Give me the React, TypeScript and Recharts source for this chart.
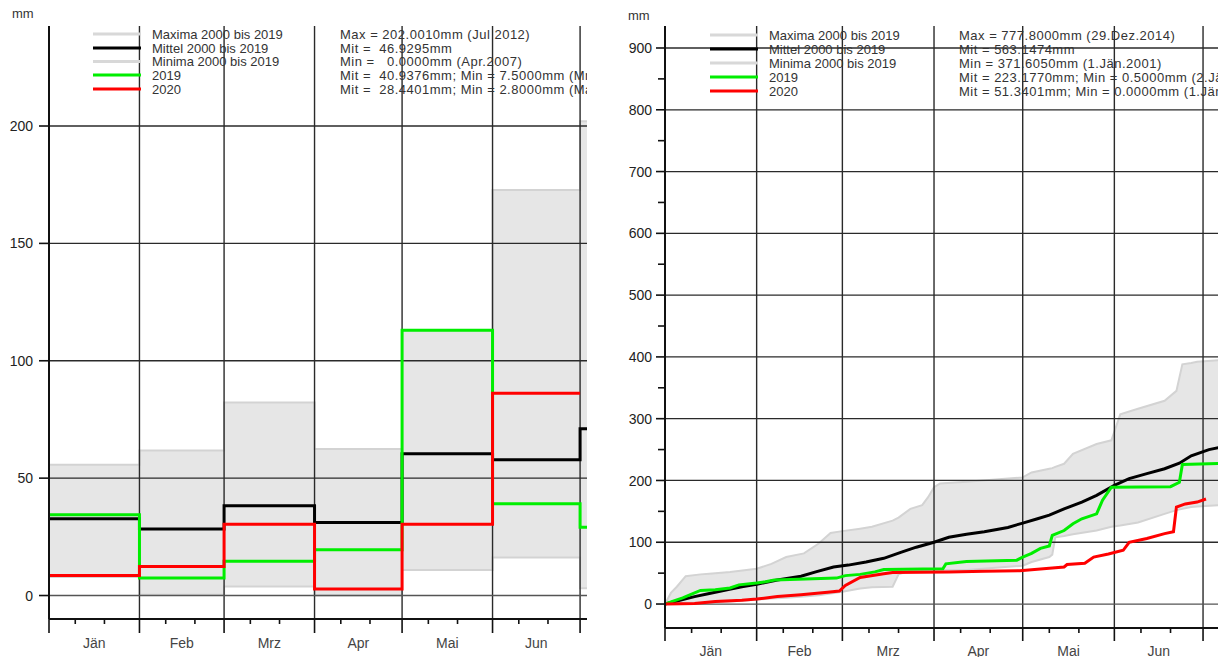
import React from 'react';
import { ComposedChart, Line, Area, XAxis, YAxis, ReferenceLine } from 'recharts';

const FONT = '"Liberation Sans", Arial, Helvetica, sans-serif';

// ---------- shared calendar (2020, leap year; day 0 = 1 Jan) ----------
const monthNames = ['Jän', 'Feb', 'Mrz', 'Apr', 'Mai', 'Jun'];
const monthStarts = [0, 31, 60, 91, 121, 152, 182, 213, 244, 274, 305, 335, 366];

// ---------- left chart: monthly sums (mm), Jan..Jul ----------
const monMax = [55.7, 61.8, 82.2, 62.4, 113.0, 172.7, 202.0];
const monMin = [7.9, 0.3, 3.8, 0.0, 10.9, 16.2, 3.1];
const monMean = [32.7, 28.3, 38.2, 31.1, 60.4, 57.8, 71.0];
const mon2019 = [34.4, 7.5, 14.6, 19.5, 113.0, 39.1, 29.1];
const mon2020 = [8.5, 12.4, 30.4, 2.8, 30.4, 86.2];
const leftYTicks = [0, 50, 100, 150, 200];

// ---------- right chart: cumulative sums (mm) ----------
const bandDays = [0, 2, 4, 7, 12, 15, 22, 31, 36, 41, 47, 52, 56, 60, 66, 70, 77, 79, 83, 87, 89, 91, 93, 102, 121, 124, 130, 131, 132, 135, 138, 146, 151, 154, 160, 169, 173, 175, 178, 180, 188];
const bandMax = [0, 18, 28, 45, 48, 49, 52, 57, 65, 76, 82, 98, 115, 118, 122, 125, 135, 140, 154, 160, 173, 189, 195, 198, 205, 213, 219, 220, 222, 227, 243, 259, 265, 307, 316, 329, 345, 388, 390, 392, 395];
const bandMin = [0, 1, 1, 2, 2, 3, 4, 7, 9, 10, 12, 14, 17, 20, 25, 27, 28, 48, 54, 54, 55, 55, 55, 55, 62, 68, 76, 80, 108, 110, 113, 119, 125, 127, 132, 146, 152, 154, 157, 158, 160];

const meanDays = [0, 5, 10, 15, 21, 26, 31, 38, 46, 51, 57, 62, 68, 74, 80, 85, 91, 96, 102, 108, 116, 121, 126, 130, 135, 141, 146, 152, 157, 163, 169, 174, 178, 184, 190];
const meanVals = [0, 6, 12, 17, 23, 28, 32, 39, 45, 52, 60, 63, 68, 74, 84, 92, 100, 108, 113, 117, 124, 131, 138, 144, 154, 165, 176, 192, 203, 211, 219, 228, 240, 250, 256];

const cum2019Days = [0, 3, 6, 9, 12, 17, 22, 25, 31, 34, 37, 45, 50, 58, 61, 66, 71, 74, 94, 95, 102, 119, 121, 124, 127, 130, 131, 135, 138, 141, 146, 148, 151, 171, 174, 175, 190];
const cum2019Vals = [0, 5, 10, 16, 22, 23, 26, 31, 34, 36, 39, 40, 41, 42, 46, 48, 52, 56, 57, 65, 69, 71, 76, 82, 90, 94, 111, 119, 130, 138, 146, 168, 189, 190, 197, 226, 228];

const cum2020Days = [0, 10, 17, 26, 31, 38, 46, 55, 59, 61, 66, 74, 77, 96, 108, 120, 130, 135, 136, 142, 145, 150, 155, 157, 163, 169, 172, 173, 176, 180, 183];
const cum2020Vals = [0, 1, 4, 6, 8, 12, 15, 19, 21, 30, 43, 49, 51, 52, 53, 54, 58, 60, 64, 66, 76, 81, 87, 100, 106, 114, 117, 157, 162, 165, 170];

const rightYMajor = [0, 100, 200, 300, 400, 500, 600, 700, 800, 900];
const rightYMinor = [50, 150, 250, 350, 450, 550, 650, 750, 850];

// ---------- legend texts ----------
const legendNames = ['Maxima 2000 bis 2019', 'Mittel 2000 bis 2019', 'Minima 2000 bis 2019', '2019', '2020'];
const legendColors = ['#d8d8d8', '#000000', '#d8d8d8', '#00ee00', '#ff0000'];
const leftStats = [
  'Max = 202.0010mm (Jul 2012)',
  'Mit =  46.9295mm',
  'Min =   0.0000mm (Apr.2007)',
  'Mit =  40.9376mm; Min = 7.5000mm (Mrz.2019)',
  'Mit =  28.4401mm; Min = 2.8000mm (Mai.2020)',
];
const rightStats = [
  'Max = 777.8000mm (29.Dez.2014)',
  'Mit = 563.1474mm',
  'Min = 371.6050mm (1.Jän.2001)',
  'Mit = 223.1770mm; Min = 0.5000mm (2.Jän)',
  'Mit = 51.3401mm; Min = 0.0000mm (1.Jän)',
];

// ---------- derived tables ----------
const shownStarts = monthStarts.slice(0, 8); // Jan .. Aug start (rest lies outside the picture)
const majorSet = new Set(shownStarts);
const labelMap = new Map<number, string>();
const xTicks: number[] = [];
shownStarts.slice(0, 7).forEach((s, i) => {
  const len = monthStarts[i + 1] - s;
  xTicks.push(s, s + 9, s + 19);
  if (i < monthNames.length) {
    xTicks.push(s + len / 2);
    labelMap.set(s + len / 2, monthNames[i]);
  }
});
xTicks.push(shownStarts[7]);
xTicks.sort((a, b) => a - b);

const leftRows = monthStarts.slice(0, 8).map((d, i) => {
  const k = Math.min(i, monMax.length - 1);
  return {
    d,
    band: [monMin[k], monMax[k]],
    mean: monMean[k],
    y2019: mon2019[k],
    y2020: i < mon2020.length ? mon2020[i] : i === mon2020.length ? mon2020[i - 1] : null,
  };
});

const bandRows = bandDays.map((d, i) => ({ d, band: [bandMin[i], bandMax[i]] }));
const meanRows = meanDays.map((d, i) => ({ d, v: meanVals[i] }));
const rows2019 = cum2019Days.map((d, i) => ({ d, v: cum2019Vals[i] }));
const rows2020 = cum2020Days.map((d, i) => ({ d, v: cum2020Vals[i] }));

// ---------- tick renderers ----------
function makeXTick(majorLen: number, minorLen: number, labelDy: number) {
  return (props: any) => {
    const { x, y, payload } = props;
    const v = payload.value;
    if (labelMap.has(v)) {
      return (
        <text x={x} y={y + labelDy} dy="0.36em" textAnchor="middle" fontFamily={FONT} fontSize={14} fill="#444">
          {labelMap.get(v)}
        </text>
      );
    }
    const len = majorSet.has(v) ? majorLen : minorLen;
    return <line x1={x} x2={x} y1={y} y2={y + len} stroke="#111" strokeWidth={1.6} />;
  };
}

function makeYTick(majors: number[], majorLen: number, minorLen: number, textGap: number) {
  return (props: any) => {
    const { x, y, payload } = props;
    const v = payload.value;
    const isMajor = majors.includes(v);
    return (
      <g>
        <line x1={x - (isMajor ? majorLen : minorLen)} x2={x} y1={y} y2={y} stroke="#111" strokeWidth={1.6} />
        {isMajor && (
          <text x={x - textGap} y={y} dy="0.36em" textAnchor="end" fontFamily={FONT} fontSize={14} fill="#222">
            {v}
          </text>
        )}
      </g>
    );
  };
}

const leftXTick = makeXTick(14, 5, 24);
const rightXTick = makeXTick(13, 5, 23);
const leftYTick = makeYTick(leftYTicks, 10, 7, 16);
const rightYTick = makeYTick(rightYMajor, 9, 7, 13);

// ---------- legend overlay ----------
function LegendOverlay(props: {
  width: number;
  lineX1: number;
  lineX2: number;
  textX: number;
  col2X: number;
  rows: number[];
  stats: string[];
  mmX: number;
  mmY: number;
}) {
  const { width, lineX1, lineX2, textX, col2X, rows, stats, mmX, mmY } = props;
  return (
    <svg width={width} height={657} style={{ position: 'absolute', left: 0, top: 0, pointerEvents: 'none' }}>
      <text x={mmX} y={mmY} dy="0.36em" fontFamily={FONT} fontSize={13} fill="#333">
        mm
      </text>
      {rows.map((ry, i) => (
        <g key={i}>
          <line x1={lineX1} x2={lineX2} y1={ry} y2={ry} stroke={legendColors[i]} strokeWidth={3.2} />
          <text x={textX} y={ry} dy="0.36em" fontFamily={FONT} fontSize={13} fill="#333">
            {legendNames[i]}
          </text>
          <text
            x={col2X}
            y={ry}
            dy="0.36em"
            fontFamily={FONT}
            fontSize={13}
            fill="#333"
            letterSpacing={0.5}
            style={{ whiteSpace: 'pre' }}
          >
            {stats[i]}
          </text>
        </g>
      ))}
    </svg>
  );
}

const gridStroke = '#2a2a2a';

function LeftChart() {
  return (
    <ComposedChart width={1117} height={657} data={leftRows} margin={{ top: 26, right: 0, bottom: 8, left: 9 }}>
      <XAxis
        type="number"
        dataKey="d"
        domain={[0, 366]}
        allowDataOverflow
        ticks={xTicks}
        interval={0}
        tickLine={false}
        tickSize={0}
        tickMargin={0}
        height={30}
        axisLine={{ stroke: '#111', strokeWidth: 2 }}
        tick={leftXTick}
      />
      <YAxis
        type="number"
        domain={[-10, 242.6]}
        allowDataOverflow
        ticks={leftYTicks}
        interval={0}
        width={40}
        tickLine={false}
        tickSize={0}
        tickMargin={0}
        axisLine={{ stroke: '#111', strokeWidth: 2 }}
        tick={leftYTick}
      />
      <Area type="stepAfter" dataKey="band" stroke="#d3d3d3" strokeWidth={2} fill="#e6e6e6" fillOpacity={1} isAnimationActive={false} />
      {shownStarts.slice(1).map((d) => (
        <ReferenceLine key={'v' + d} x={d} stroke={gridStroke} strokeWidth={1.4} zIndex={150} />
      ))}
      {leftYTicks.map((v) => (
        <ReferenceLine key={'h' + v} y={v} stroke={v === 0 ? '#555' : gridStroke} strokeWidth={1.3} zIndex={150} />
      ))}
      <Line type="stepAfter" dataKey="mean" stroke="#000" strokeWidth={3} dot={false} isAnimationActive={false} />
      <Line type="stepAfter" dataKey="y2019" stroke="#00ee00" strokeWidth={3} dot={false} isAnimationActive={false} />
      <Line type="stepAfter" dataKey="y2020" stroke="#ff0000" strokeWidth={3} dot={false} isAnimationActive={false} />
    </ComposedChart>
  );
}

function RightChart() {
  return (
    <ComposedChart width={1147} height={657} margin={{ top: 26, right: 0, bottom: 4, left: 5 }}>
      <XAxis
        type="number"
        dataKey="d"
        domain={[0, 366]}
        allowDataOverflow
        ticks={xTicks}
        interval={0}
        tickLine={false}
        tickSize={0}
        tickMargin={0}
        height={25}
        axisLine={{ stroke: '#111', strokeWidth: 2 }}
        tick={rightXTick}
      />
      <YAxis
        type="number"
        domain={[-38.8, 935.6]}
        allowDataOverflow
        ticks={[...rightYMajor, ...rightYMinor].sort((a, b) => a - b)}
        interval={0}
        width={60}
        tickLine={false}
        tickSize={0}
        tickMargin={0}
        axisLine={{ stroke: '#111', strokeWidth: 2 }}
        tick={rightYTick}
      />
      <Area data={bandRows} type="linear" dataKey="band" stroke="#d3d3d3" strokeWidth={2} fill="#e6e6e6" fillOpacity={1} isAnimationActive={false} />
      {shownStarts.slice(1).map((d) => (
        <ReferenceLine key={'v' + d} x={d} stroke={gridStroke} strokeWidth={1.4} zIndex={150} />
      ))}
      {rightYMajor.map((v) => (
        <ReferenceLine key={'h' + v} y={v} stroke={v === 0 ? '#555' : gridStroke} strokeWidth={1.3} zIndex={150} />
      ))}
      <Line data={meanRows} type="linear" dataKey="v" stroke="#000" strokeWidth={3} dot={false} isAnimationActive={false} />
      <Line data={rows2019} type="linear" dataKey="v" stroke="#00ee00" strokeWidth={3} dot={false} isAnimationActive={false} />
      <Line data={rows2020} type="linear" dataKey="v" stroke="#ff0000" strokeWidth={3} dot={false} isAnimationActive={false} />
    </ComposedChart>
  );
}

export default function App() {
  return (
    <div style={{ position: 'absolute', left: 0, top: 0, width: 1218, height: 657, overflow: 'hidden', background: '#fff' }}>
      <div style={{ position: 'absolute', left: 0, top: 0, width: 587, height: 657, overflow: 'hidden' }}>
        <LeftChart />
        <LegendOverlay
          width={587}
          lineX1={93}
          lineX2={141}
          textX={152}
          col2X={340}
          rows={[34, 48, 61.5, 75, 89]}
          stats={leftStats}
          mmX={12}
          mmY={13}
        />
      </div>
      <div style={{ position: 'absolute', left: 600, top: 0, width: 618, height: 657, overflow: 'hidden' }}>
        <RightChart />
        <LegendOverlay
          width={618}
          lineX1={110}
          lineX2={158}
          textX={169}
          col2X={359}
          rows={[35, 49, 63, 77, 91]}
          stats={rightStats}
          mmX={28}
          mmY={15}
        />
      </div>
    </div>
  );
}
